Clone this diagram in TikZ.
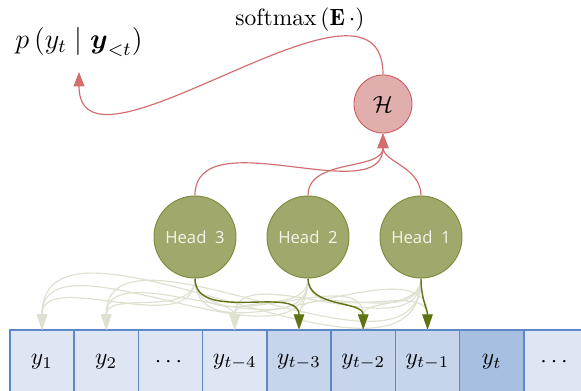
\documentclass[tikz,border=0pt]{standalone}
\usepackage{amsmath}
\usepackage{amssymb}
\usepackage{fontspec}
\newfontfamily\headfont{Open Sans}
\usetikzlibrary{arrows.meta,positioning}

\definecolor{tokfill}{RGB}{223,230,243}
\definecolor{tokmid}{RGB}{198,213,235}
\definecolor{tokcur}{RGB}{167,191,224}
\definecolor{tokline}{RGB}{95,135,200}
\definecolor{headfill}{RGB}{160,168,108}
\definecolor{headline}{RGB}{125,140,60}
\definecolor{headtext}{RGB}{245,245,235}
\definecolor{attndark}{RGB}{95,115,20}
\definecolor{attnfaint}{RGB}{222,224,208}
\definecolor{aggfill}{RGB}{225,174,174}
\definecolor{aggline}{RGB}{205,95,95}
\definecolor{outline}{RGB}{210,110,110}

\begin{document}
\begin{tikzpicture}[
    x=0.4255pt, y=-0.4255pt,
    token/.style={rectangle, draw=tokline, line width=0.6pt, fill=tokfill, minimum width=27.34pt, minimum height=27.34pt, inner sep=0pt, outer sep=0pt},
    head/.style={circle, draw=headline, fill=headfill, minimum size=34.9pt, inner sep=0pt, text=headtext, font=\headfont\fontsize{7.1}{8}\selectfont},
    agg/.style={circle, draw=aggline, fill=aggfill, minimum size=24.7pt, inner sep=0pt},
    faint/.style={draw=attnfaint, line width=0.5pt, -{Triangle[length=6.6pt,width=4.4pt]}},
    attn/.style={draw=attndark, line width=0.6pt, -{Triangle[length=6.6pt,width=4.4pt]}},
    redline/.style={draw=outline, line width=0.5pt, -{Triangle[length=6.2pt,width=4.6pt]}}
]
    \useasboundingbox (0,0) rectangle (581,391);
    \clip (0,0) rectangle (581,391);

    % Tokens
    \node[token] (b1) at (42,362) {$y_1$};
    \node[token, right=0pt of b1] (b2) {$y_2$};
    \node[token, right=0pt of b2] (bdots) {$\cdots$};
    \node[token, right=0pt of bdots] (bt4) {$y_{t-4}$};
    \node[token, fill=tokmid, right=0pt of bt4] (bt3) {$y_{t-3}$};
    \node[token, fill=tokmid, right=0pt of bt3] (bt2) {$y_{t-2}$};
    \node[token, fill=tokmid, right=0pt of bt2] (bt1) {$y_{t-1}$};
    \node[token, fill=tokcur, right=0pt of bt1] (bt) {$y_t$};
    \node[token, right=0pt of bt] (bdots2) {$\cdots$};

    % Heads
    \node[head] (head3) at (195,237) {Head~~3};
    \node[head] (head2) at (308,237) {Head~~2};
    \node[head] (head1) at (421,237) {Head~~1};

    % Aggregation and output
    \node[agg] (hnode) at (383,104) {$\mathcal{H}$};
    \node[font=\large] (prob) at (79,42) {$p\left(y_t \;\middle|\; \boldsymbol{y}_{<t}\right)$};
    \node (softmax) at (300,20) {$\operatorname{softmax}\left(\mathbf{E}\,\cdot\right)$};

    % Faint attention
    \draw[faint] (head3.south) to[out=-90,in=90] (b1.north);
    \draw[faint] (head3.south) to[out=-90,in=90] (b2.north);
    \draw[faint] (head3.south) to[out=-90,in=90] (bt4.north);
    \draw[faint] (head3.south) to[out=-90,in=90] (bt2.north);
    \draw[faint] (head3.south) to[out=-90,in=90] (bt1.north);
    \draw[faint] (head2.south) to[out=-90,in=90] (b1.north);
    \draw[faint] (head2.south) to[out=-90,in=90] (b2.north);
    \draw[faint] (head2.south) to[out=-90,in=90] (bt4.north);
    \draw[faint] (head2.south) to[out=-90,in=90] (bt3.north);
    \draw[faint] (head2.south) to[out=-90,in=90] (bt1.north);
    \draw[faint] (head1.south) to[out=-90,in=90] (b1.north);
    \draw[faint] (head1.south) to[out=-90,in=90] (b2.north);
    \draw[faint] (head1.south) to[out=-90,in=90] (bt4.north);
    \draw[faint] (head1.south) to[out=-90,in=90] (bt3.north);
    \draw[faint] (head1.south) to[out=-90,in=90] (bt2.north);

    % Strong attention
    \draw[attn] (head3.south) to[out=-90,in=90] (bt3.north);
    \draw[attn] (head2.south) to[out=-90,in=90] (bt2.north);
    \draw[attn] (head1.south) to[out=-90,in=90] (bt1.north);

    % Heads to aggregation
    \draw[redline] (head3.north) to[out=90,in=-90] (hnode.south);
    \draw[redline] (head2.north) to[out=90,in=-90] (hnode.south);
    \draw[redline] (head1.north) to[out=90,in=-90] (hnode.south);

    % Output distribution
    \draw[redline, shorten >=3pt] (hnode.north) to[out=90,in=-90,looseness=1.1] (prob.south);

\end{tikzpicture}
\end{document}
